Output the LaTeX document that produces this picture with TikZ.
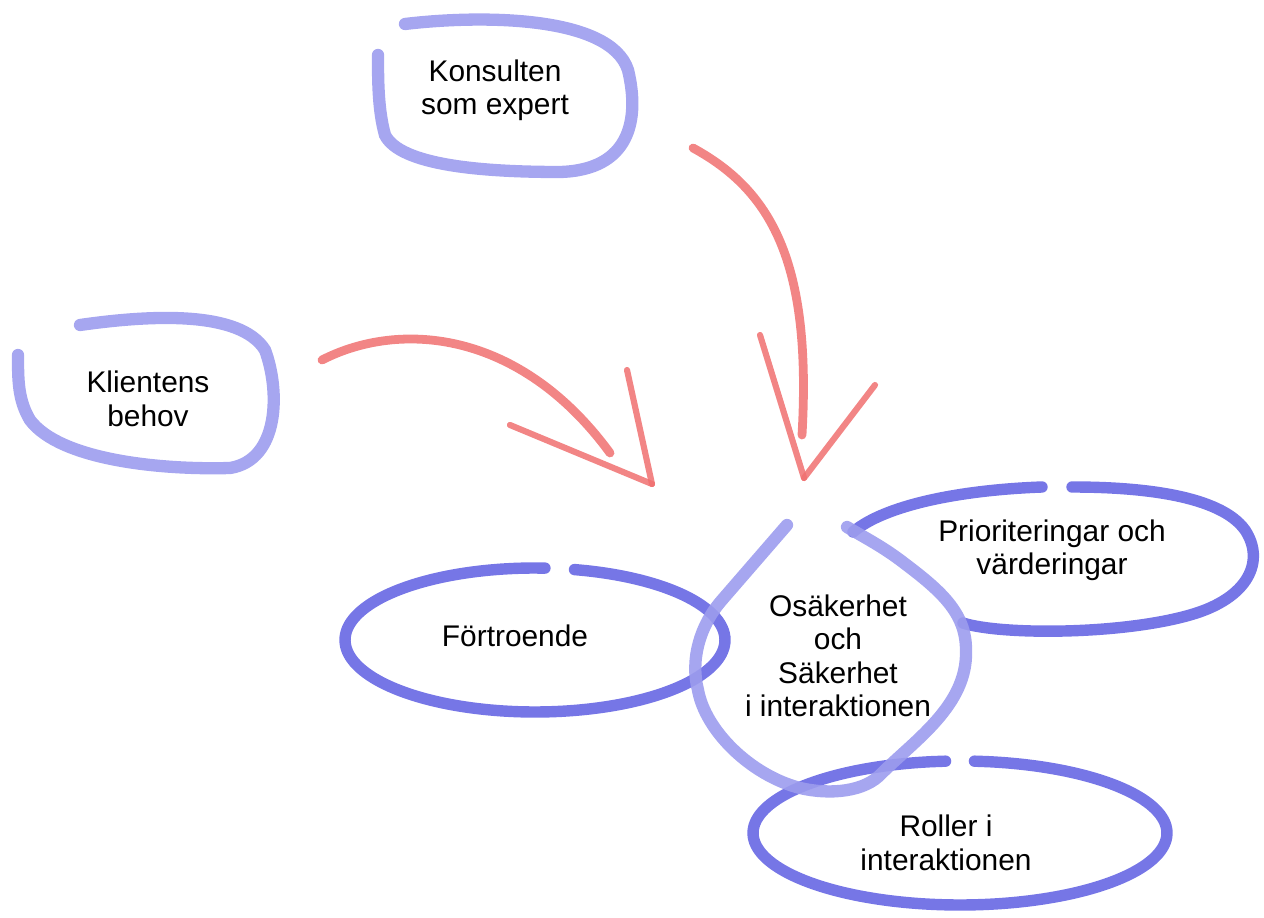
\documentclass[tikz,border=0pt]{standalone}
\usepackage{fontspec}
\setmainfont{Liberation Sans}
\usetikzlibrary{positioning}
\definecolor{penblue}{HTML}{5E5EE2}
\definecolor{paleblue}{HTML}{9C9CEE}
\definecolor{penred}{HTML}{F07070}

\begin{document}
\begin{tikzpicture}[x=0.02cm, y=-0.02cm,
    ring/.style={draw=penblue, line width=6.5pt, line cap=round, opacity=0.85},
    loopline/.style={draw=paleblue, line width=7pt, line cap=round, opacity=0.9},
    brush/.style={draw=penred, line width=5pt, line cap=round, opacity=0.85},
    barb/.style={draw=penred, line width=3.5pt, line cap=round, opacity=0.85},
    txt/.style={align=center, inner sep=0pt, font=\fontsize{17}{19}\selectfont}]
  \useasboundingbox (0,0) rectangle (1264,918);

  % texts
  \node[txt] (konsult) at (495,90) {Konsulten\\som expert};
  \node[txt] (klient) at (148,399) {Klientens\\behov};
  \node[txt] (fortro) at (515,636) {Förtroende};
  \node[txt] (osak) at (838,656) {Osäkerhet\\och\\Säkerhet\\i interaktionen};
  \node[txt] (prio) at (1052,550) {Prioriteringar och\\värderingar};
  \node[txt] (roller) at (946,843) {Roller i\\interaktionen};

  % open loops at the top
  \draw[loopline] (405,24) .. controls (480,15) and (610,15) .. (628,70)
    .. controls (640,120) and (630,170) .. (560,172)
    .. controls (480,172) and (400,165) .. (385,135)
    .. controls (378,110) and (378,80) .. (378,55);
  \draw[loopline] (80,325) .. controls (150,315) and (240,310) .. (265,350)
    .. controls (280,390) and (280,460) .. (230,468)
    .. controls (160,470) and (60,460) .. (30,420)
    .. controls (18,400) and (18,380) .. (18,355);

  % rings
  \draw[ring] plot[domain=282:633, samples=80, smooth] ({535+190*cos(\x)},{640+72*sin(\x)});
  \draw[ring] (963,623) .. controls (1000,635) and (1120,635) .. (1190,615)
    .. controls (1250,598) and (1265,560) .. (1245,530)
    .. controls (1220,495) and (1140,487) .. (1072,487);
  \draw[ring] (1042,487) .. controls (960,490) and (885,505) .. (853,532);
  \draw[ring] plot[domain=274:626, samples=80, smooth] ({960+207*cos(\x)},{833+72*sin(\x)});

  % the drop in the middle
  \draw[loopline] (787,525) -- (722,600) .. controls (700,625) and (690,660) .. (698,690)
    .. controls (705,730) and (750,775) .. (800,788)
    .. controls (830,795) and (865,792) .. (882,773)
    .. controls (915,740) and (968,705) .. (966,650)
    .. controls (966,612) and (940,590) .. (900,560)
    .. controls (880,545) and (860,535) .. (847,527);

  % red arrows
  \coordinate (tipA) at (652,484);
  \coordinate (tipB) at (804,478);
  \draw[brush] (322,360) .. controls (400,320) and (520,330) .. (610,453);
  \draw[barb] (510,425) -- (tipA);
  \draw[barb] (627,370) -- (tipA);
  \draw[brush] (693,148) .. controls (770,190) and (812,260) .. (802,435);
  \draw[barb] (760,335) -- (tipB);
  \draw[barb] (875,385) -- (tipB);
\end{tikzpicture}
\end{document}
